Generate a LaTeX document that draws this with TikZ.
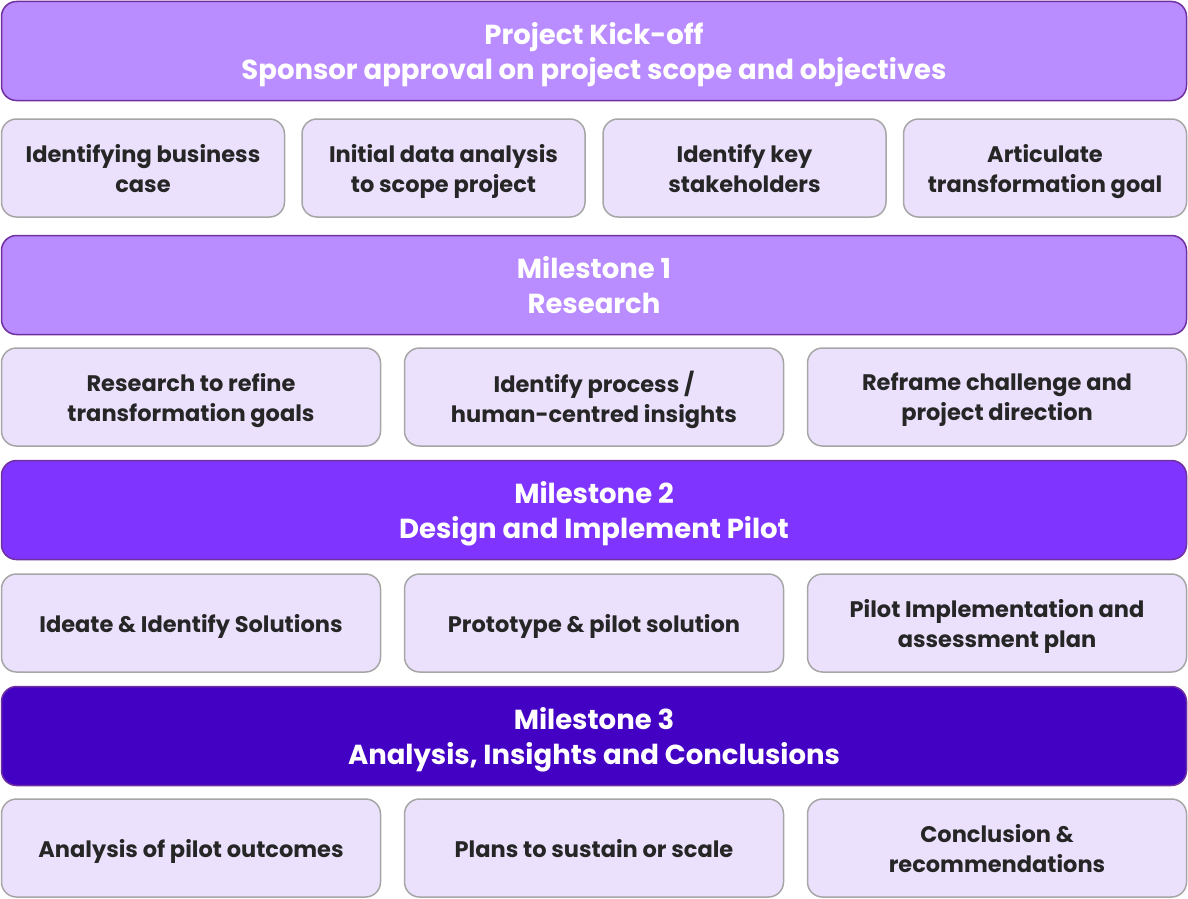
\documentclass[tikz,border=0pt]{standalone}
\usepackage{fontspec}
\setmainfont{Poppins}
\usepackage{tikz}
\usetikzlibrary{positioning}
\definecolor{phaselight}{HTML}{B98CFF}
\definecolor{phasemid}{HTML}{7F35FF}
\definecolor{phasedark}{HTML}{4301C4}
\definecolor{phaseline}{HTML}{7030A0}
\definecolor{taskfill}{HTML}{EBE1FD}
\definecolor{taskline}{HTML}{A6A6A6}
\definecolor{tasktext}{HTML}{262626}
\tikzset{
  phase/.style={draw=phaseline, line width=1.5pt, rounded corners=15pt, text=white,
    minimum width=1185pt, minimum height=99pt, align=center, text depth=0pt,
    font=\fontsize{27.5}{35}\selectfont\bfseries},
  task/.style={draw=taskline, fill=taskfill, line width=1.5pt, rounded corners=15pt,
    text=tasktext, minimum height=98pt, align=center, text depth=0pt,
    font=\fontsize{22.5}{30}\selectfont\bfseries},
  task4/.style={task, minimum width=283pt},
  task3/.style={task, minimum width=379pt}
}
\begin{document}
\begin{tikzpicture}[x=1pt,y=-1pt]
		%%%%% START %%%%%
		\useasboundingbox (0,0) rectangle (1188,899);
		
		\node[phase, fill=phaselight] (kickoff) at (594,51) {Project Kick-off\\Sponsor approval on project scope and objectives};
		\node[task4] (business) at (143,168) {Identifying business\\case};
		\node[task4] (dataanalysis) at (443.5,168) {Initial data analysis\\to scope project};
		\node[task4] (stakeholders) at (744.5,168) {Identify key\\stakeholders};
		\node[task4] (goal) at (1045,168) {Articulate\\transformation goal};
		
		\node[phase, fill=phaselight] (research) at (594,285) {Milestone 1\\Research};
		\node[task3] (refine) at (191,397) {Research to refine\\transformation goals};
		\node[task3] (insights) at (594,397) {Identify process /\\human-centred insights};
		\node[task3] (reframe) at (997,397) {Reframe challenge and\\project direction};
		
		\node[phase, fill=phasemid] (pilot) at (594,510) {Milestone 2\\Design and Implement Pilot};
		\node[task3] (ideate) at (191,623) {Ideate \& Identify Solutions};
		\node[task3] (prototype) at (594,623) {Prototype \& pilot solution};
		\node[task3] (assessment) at (997,623) {Pilot Implementation and\\assessment plan};
		
		\node[phase, fill=phasedark] (conclusions) at (594,736) {Milestone 3\\Analysis, Insights and Conclusions};
		\node[task3] (outcomes) at (191,848) {Analysis of pilot outcomes};
		\node[task3] (sustain) at (594,848) {Plans to sustain or scale};
		\node[task3] (recommend) at (997,848) {Conclusion \&\\recommendations};
		
		%%%%% END %%%%%
	\end{tikzpicture}
\end{document}
